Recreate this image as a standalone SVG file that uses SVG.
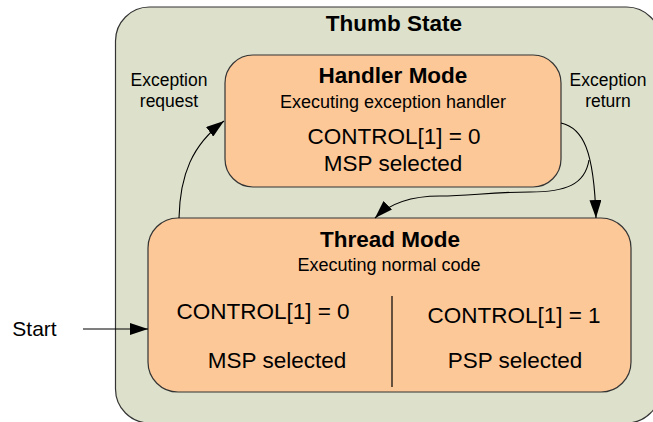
<svg xmlns="http://www.w3.org/2000/svg" width="653" height="422" viewBox="0 0 653 422">
<defs>
<style>
text{font-family:"Liberation Sans",Arial,sans-serif;fill:#000;text-anchor:middle}
.b{font-weight:bold;font-size:22.5px}
.s{font-size:18px}
.l{font-size:17.5px}
.m{font-size:22.5px}
.st{fill:#fdc898;stroke:#333;stroke-width:1.2}
.c{fill:none;stroke:#000;stroke-width:1.1}
</style>
<marker id="ah" viewBox="0 0 18 12" refX="18" refY="6" markerWidth="18" markerHeight="12" markerUnits="userSpaceOnUse" orient="auto"><path d="M0,0 L18,6 L0,12 z" fill="#000"/></marker>
</defs>
<g id="thumb">
<rect x="115.5" y="7" width="545" height="416" rx="34" fill="#dde1cb" stroke="#333" stroke-width="1.2"/>
<text class="b" x="394" y="31">Thumb State</text>
</g>
<g id="handler">
<rect class="st" x="225" y="55" width="336" height="132" rx="28"/>
<text class="b" x="393" y="83">Handler Mode</text>
<text class="s" x="393" y="108">Executing exception handler</text>
<text class="m" x="394" y="144">CONTROL[1] = 0</text>
<text class="m" x="393" y="171">MSP selected</text>
</g>
<g id="thread">
<rect class="st" x="148" y="218" width="483" height="174" rx="30"/>
<text class="b" x="390" y="247">Thread Mode</text>
<text class="s" x="389" y="271">Executing normal code</text>
<line x1="392" y1="296" x2="392" y2="387" stroke="#000" stroke-width="1.2"/>
<text class="m" x="263" y="319">CONTROL[1] = 0</text>
<text class="m" x="277" y="368">MSP selected</text>
<text class="m" x="514" y="323">CONTROL[1] = 1</text>
<text class="m" x="515" y="368">PSP selected</text>
</g>
<g id="labels">
<text class="m" x="34.5" y="336" style="font-size:21px">Start</text>
<text class="l" x="169" y="86">Exception</text>
<text class="l" x="169" y="107">request</text>
<text class="l" x="608" y="86">Exception</text>
<text class="l" x="608" y="107">return</text>
</g>
<g id="connectors">
<path class="c" d="M83,329 L148,329" marker-end="url(#ah)"/>
<path class="c" d="M179,218 C180,175 192,145 224,121" marker-end="url(#ah)"/>
<path class="c" d="M561,123 C583,128 594,150 596,218" marker-end="url(#ah)"/>
<path class="c" d="M589,160 C585,185 565,192 530,192 C490,192 470,196 440,196 C410,196 390,203 375,218" marker-end="url(#ah)"/>
</g>
</svg>
